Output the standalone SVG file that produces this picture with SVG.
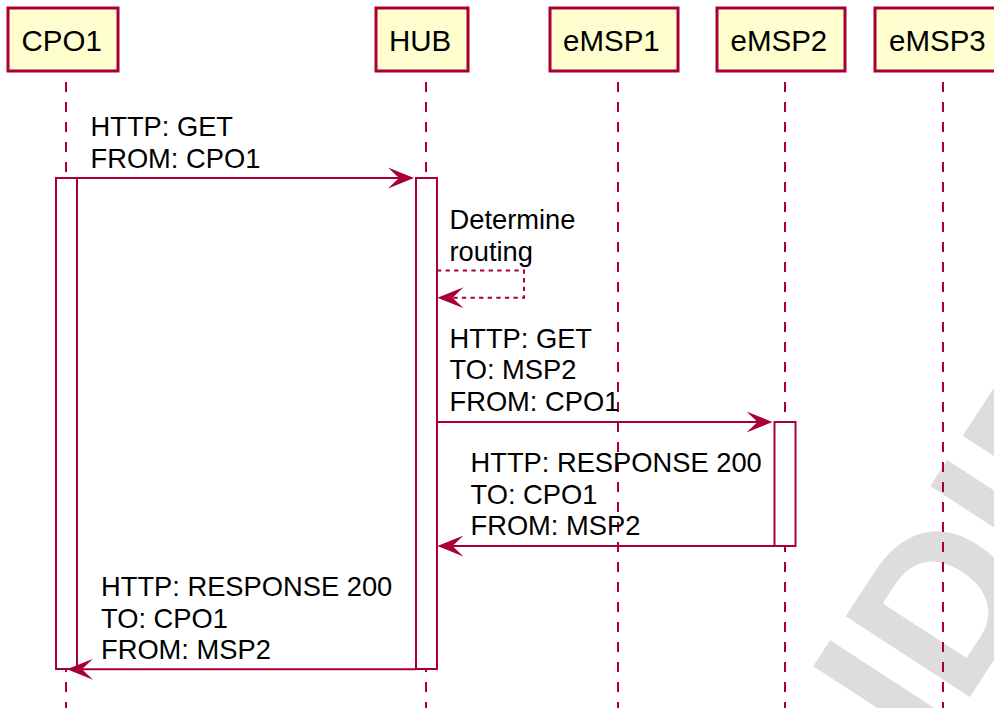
<svg xmlns="http://www.w3.org/2000/svg" width="994" height="708" viewBox="0 0 994 708">
<style>
.pbox{fill:#FEFECE;stroke:#A80036;stroke-width:3}
.ptxt{font-family:"Liberation Sans",Arial,sans-serif;font-size:29.5px;fill:#000}
.life{stroke:#A80036;stroke-width:2;stroke-dasharray:10,10;fill:none}
.act{fill:#FFFFFF;stroke:#A80036;stroke-width:2}
.msg{stroke:#A80036;stroke-width:2;fill:none;marker-end:url(#ah)}
.dot{stroke-dasharray:4.3,4.3}
.mtxt{font-family:"Liberation Sans",Arial,sans-serif;font-size:27.3px;fill:#000}
.wm{font-family:"Liberation Sans",Arial,sans-serif;font-weight:bold;font-size:215px;fill:#DDDDDD}
</style>
<defs>
<marker id="ah" markerUnits="userSpaceOnUse" viewBox="0 0 26 21" refX="23" refY="10.5" markerWidth="26" markerHeight="21" orient="auto">
<path d="M0,0 L26,10.5 L0,21 L11,10.5 Z" fill="#A80036" stroke="none"/>
</marker>
</defs>
<rect width="994" height="708" fill="#FFFFFF"/>
<g id="watermark">
<text class="wm" x="929.4" y="759" transform="rotate(-57 929.4 759)">IDIE</text>
</g>
<g id="lifelines">
<line class="life" x1="66" y1="82" x2="66" y2="708"/>
<line class="life" x1="426" y1="82" x2="426" y2="708"/>
<line class="life" x1="618" y1="82" x2="618" y2="708"/>
<line class="life" x1="785" y1="82" x2="785" y2="708"/>
<line class="life" x1="943" y1="82" x2="943" y2="708"/>
</g>
<g id="CPO1">
<rect class="pbox" x="8" y="8" width="110" height="63"/>
<text class="ptxt" x="21.5" y="50.5">CPO1</text>
<rect class="act" x="56" y="178" width="21" height="491"/>
</g>
<g id="HUB">
<rect class="pbox" x="376" y="8" width="92" height="63"/>
<text class="ptxt" x="389" y="50.5">HUB</text>
<rect class="act" x="416" y="178" width="21" height="491"/>
</g>
<g id="eMSP1">
<rect class="pbox" x="550" y="8" width="128" height="63"/>
<text class="ptxt" x="563" y="50.5">eMSP1</text>
</g>
<g id="eMSP2">
<rect class="pbox" x="717" y="8" width="128" height="63"/>
<text class="ptxt" x="730.5" y="50.5">eMSP2</text>
<rect class="act" x="774.5" y="422" width="21" height="124"/>
</g>
<g id="eMSP3">
<rect class="pbox" x="875" y="8" width="128" height="63"/>
<text class="ptxt" x="889" y="50.5">eMSP3</text>
</g>
<g id="connectors">
<line class="msg" x1="77" y1="178" x2="411" y2="178"/>
<path class="msg dot" d="M437,270.5 H524 V297.7 H440.5"/>
<line class="msg" x1="437" y1="422" x2="769.5" y2="422"/>
<line class="msg" x1="774.5" y1="546" x2="440.5" y2="546"/>
<line class="msg" x1="416" y1="669.3" x2="70" y2="669.3"/>
</g>
<g id="labels">
<text class="mtxt" x="90.5" y="136">HTTP: GET</text>
<text class="mtxt" x="90.5" y="167.5">FROM: CPO1</text>
<text class="mtxt" x="449.5" y="229">Determine</text>
<text class="mtxt" x="449.5" y="260.5">routing</text>
<text class="mtxt" x="449.5" y="347.5">HTTP: GET</text>
<text class="mtxt" x="449.5" y="379">TO: MSP2</text>
<text class="mtxt" x="449.5" y="410.5">FROM: CPO1</text>
<text class="mtxt" x="470.5" y="472">HTTP: RESPONSE 200</text>
<text class="mtxt" x="470.5" y="503.5">TO: CPO1</text>
<text class="mtxt" x="470.5" y="535">FROM: MSP2</text>
<text class="mtxt" x="101" y="596">HTTP: RESPONSE 200</text>
<text class="mtxt" x="101" y="627.5">TO: CPO1</text>
<text class="mtxt" x="101" y="659">FROM: MSP2</text>
</g>
</svg>
